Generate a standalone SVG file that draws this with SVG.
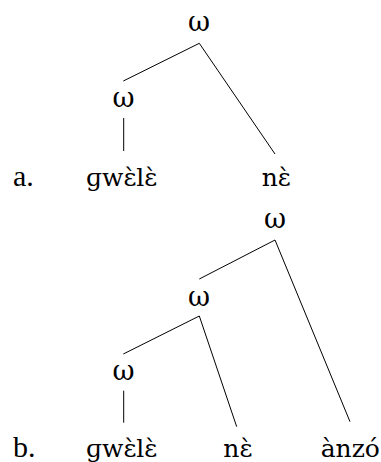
<svg xmlns="http://www.w3.org/2000/svg" width="381" height="462" viewBox="0 0 381 462">
<style>
text{font-family:"DejaVu Serif","Liberation Serif",serif;font-size:25px;fill:#000}
.lab{font-family:"Liberation Serif","DejaVu Serif",serif;font-size:30px}
.w{text-anchor:middle;font-size:27px}
.e line{stroke:#000;stroke-width:1}
</style>
<rect width="381" height="462" fill="#fff"/>
<g id="connectors" class="e">
<line x1="199.3" y1="43.3" x2="123.3" y2="81"/>
<line x1="199.3" y1="43.3" x2="275" y2="154"/>
<line x1="123.7" y1="118" x2="123.7" y2="151"/>
<line x1="275" y1="240" x2="199.3" y2="279"/>
<line x1="275" y1="240" x2="350" y2="421.7"/>
<line x1="199.3" y1="316" x2="123.3" y2="354"/>
<line x1="199.3" y1="316" x2="236.7" y2="426.7"/>
<line x1="123.7" y1="390.7" x2="123.7" y2="422.7"/>
</g>
<g id="label-a"><text class="lab" x="13" y="186">a.</text></g>
<g id="a-root"><text class="w" x="199" y="31">ω</text></g>
<g id="a-w"><text class="w" x="123.5" y="107">ω</text></g>
<g id="a-gwele"><text x="86" y="186">ɡwɛ̀lɛ̀</text></g>
<g id="a-ne"><text x="261.7" y="186">nɛ̀</text></g>
<g id="label-b"><text class="lab" x="13" y="457">b.</text></g>
<g id="b-root"><text class="w" x="275" y="228">ω</text></g>
<g id="b-w2"><text class="w" x="199" y="306">ω</text></g>
<g id="b-w1"><text class="w" x="123.5" y="380">ω</text></g>
<g id="b-gwele"><text x="86" y="457">ɡwɛ̀lɛ̀</text></g>
<g id="b-ne"><text x="223.3" y="457">nɛ̀</text></g>
<g id="b-anzo"><text x="320.7" y="457">ànzó</text></g>
</svg>
